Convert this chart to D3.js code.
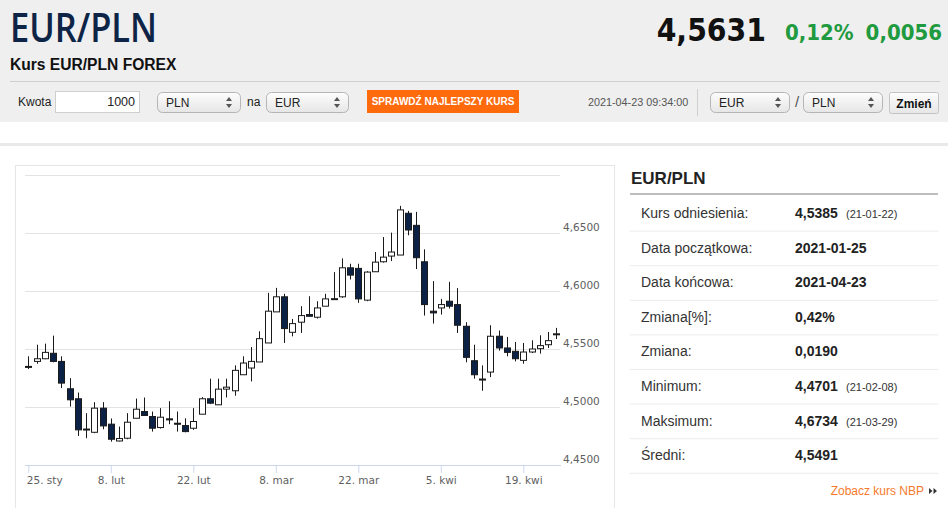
<!DOCTYPE html>
<html>
<head>
<meta charset="utf-8">
<script src="https://cdn.jsdelivr.net/npm/d3@7"></script>
<style>
  body { margin: 0; background: #fff; }
  svg { display: block; }
</style>
</head>
<body>
<script>
// dni notowań (pon-pt), 2021-01-25 .. 2021-04-23
var days = ['01-25','01-26','01-27','01-28','01-29','02-01','02-02','02-03','02-04','02-05',
  '02-08','02-09','02-10','02-11','02-12','02-15','02-16','02-17','02-18','02-19',
  '02-22','02-23','02-24','02-25','02-26','03-01','03-02','03-03','03-04','03-05',
  '03-08','03-09','03-10','03-11','03-12','03-15','03-16','03-17','03-18','03-19',
  '03-22','03-23','03-24','03-25','03-26','03-29','03-30','03-31','04-01','04-02',
  '04-05','04-06','04-07','04-08','04-09','04-12','04-13','04-14','04-15','04-16',
  '04-19','04-20','04-21','04-22','04-23']

var open = [4.5350,4.5393,4.5416,4.5463,4.5393,4.5157,4.5071,4.4805,4.4782,4.4990,
  4.4852,4.4707,4.4731,4.4903,4.4961,4.4918,4.4823,4.4898,4.4860,4.4840,
  4.4817,4.4938,4.5071,4.5019,4.5154,4.5140,4.5278,4.5336,4.5388,4.5552,
  4.5820,4.5950,4.5644,4.5731,4.5797,4.5774,4.5869,4.5930,4.5950,4.6200,
  4.6195,4.5921,4.6166,4.6252,4.6301,4.6310,4.6670,4.6566,4.6252,4.5826,
  4.5854,4.5912,4.5883,4.5696,4.5399,4.5241,4.5301,4.5610,4.5509,4.5480,
  4.5402,4.5474,4.5503,4.5537,4.5628]
var high = [4.5437,4.5537,4.5546,4.5615,4.5437,4.5249,4.5125,4.4947,4.5042,4.5042,
  4.4901,4.4831,4.4947,4.5073,4.5082,4.4961,4.4990,4.5050,4.4961,4.4903,
  4.4990,4.5085,4.5244,4.5244,4.5244,4.5359,4.5437,4.5517,4.5653,4.5984,
  4.6027,4.5976,4.5759,4.5869,4.5955,4.5912,4.5976,4.6163,4.6281,4.6235,
  4.6235,4.6171,4.6336,4.6465,4.6503,4.6734,4.6690,4.6682,4.6359,4.6085,
  4.5932,4.6079,4.6025,4.5731,4.5537,4.5359,4.5705,4.5659,4.5604,4.5561,
  4.5552,4.5575,4.5618,4.5647,4.5682]
var low = [4.5327,4.5373,4.5412,4.5385,4.5163,4.5004,4.4751,4.4731,4.4774,4.4808,
  4.4701,4.4703,4.4722,4.4903,4.4925,4.4788,4.4814,4.4852,4.4788,4.4782,
  4.4803,4.4938,4.5025,4.5019,4.5082,4.5097,4.5278,4.5220,4.5388,4.5552,
  4.5820,4.5552,4.5609,4.5638,4.5782,4.5762,4.5869,4.5926,4.5941,4.6099,
  4.5898,4.5912,4.6166,4.6244,4.6258,4.6310,4.6480,4.6189,4.5788,4.5719,
  4.5797,4.5849,4.5638,4.5385,4.5244,4.5140,4.5258,4.5486,4.5437,4.5393,
  4.5373,4.5465,4.5460,4.5509,4.5586]
var close = [4.5348,4.5416,4.5471,4.5393,4.5206,4.5062,4.4803,4.4810,4.4990,4.4837,
  4.4722,4.4728,4.4869,4.4981,4.4927,4.4817,4.4912,4.4889,4.4858,4.4788,
  4.4875,4.5071,4.5033,4.5154,4.5171,4.5316,4.5379,4.5393,4.5589,4.5826,
  4.5950,4.5676,4.5719,4.5788,4.5782,4.5854,4.5932,4.5934,4.6200,4.6137,
  4.5932,4.6163,4.6249,4.6292,4.6336,4.6699,4.6526,4.6287,4.5883,4.5811,
  4.5883,4.5869,4.5705,4.5428,4.5278,4.5235,4.5610,4.5509,4.5471,4.5416,
  4.5474,4.5500,4.5529,4.5572,4.5631]

var xTicks = ['01-25','02-08','02-22','03-08','03-22','04-05','04-19']
var xTickLabels = ['25. sty','8. lut','22. lut','8. mar','22. mar','5. kwi','19. kwi']
var yTicks = [4.45, 4.50, 4.55, 4.60, 4.65, 4.70]

var statLabels = ['Kurs odniesienia:','Data początkowa:','Data końcowa:','Zmiana[%]:','Zmiana:','Minimum:','Maksimum:','Średni:']
var statValues = ['4,5385','2021-01-25','2021-04-23','0,42%','0,0190','4,4701','4,6734','4,5491']
var statDates = ['(21-01-22)','','','','','(21-02-08)','(21-03-29)','']

var W = 948, H = 508
var sans = 'Arial, "Liberation Sans", sans-serif'
var cond = '"DejaVu Sans Condensed", "DejaVu Sans", sans-serif'

var svg = d3.select('body').append('svg')
  .attr('width', W)
  .attr('height', H)
  .style('font-family', sans)

// ---- nagłówek ----
svg.append('rect').attr('x', 0).attr('y', 0).attr('width', W).attr('height', 122).attr('fill', '#efefef')

svg.append('text').attr('x', 10).attr('y', 42)
  .style('font-family', '"Open Sans", sans-serif').style('font-size', '39px').style('font-weight', 600)
  .attr('textLength', 147).attr('lengthAdjust', 'spacingAndGlyphs')
  .attr('fill', '#0d2446')
  .text('EUR/PLN')
svg.append('text').attr('x', 10).attr('y', 70)
  .style('font-size', '15.6px').style('font-weight', 'bold').attr('fill', '#111')
  .text('Kurs EUR/PLN FOREX')

svg.append('text').attr('x', 766).attr('y', 41).attr('text-anchor', 'end')
  .style('font-family', cond).style('font-size', '31.5px').style('font-weight', 'bold').attr('fill', '#111')
  .text('4,5631')
svg.append('text').attr('x', 785).attr('y', 40)
  .style('font-family', cond).style('font-size', '22px').style('font-weight', 'bold').attr('fill', '#1f9a3f')
  .text('0,12%')
svg.append('text').attr('x', 942).attr('y', 40).attr('text-anchor', 'end')
  .style('font-family', cond).style('font-size', '22px').style('font-weight', 'bold').attr('fill', '#1f9a3f')
  .text('0,0056')

svg.append('line').attr('x1', 10).attr('x2', 940).attr('y1', 81.5).attr('y2', 81.5).attr('stroke', '#cfcfcf')

var grad = svg.append('defs').append('linearGradient').attr('id', 'sel').attr('x1', 0).attr('x2', 0).attr('y1', 0).attr('y2', 1)
grad.append('stop').attr('offset', 0).attr('stop-color', '#fdfdfd')
grad.append('stop').attr('offset', 1).attr('stop-color', '#e6e6e6')

function select(x, w, label) {
  var g = svg.append('g').attr('transform', `translate(${x},92)`)
  g.append('rect').attr('x', 0.5).attr('y', 0.5).attr('width', w).attr('height', 20).attr('rx', 5)
    .attr('fill', 'url(#sel)').attr('stroke', '#b5b5b5')
  g.append('text').attr('x', 9).attr('y', 14.5).style('font-size', '12px').attr('fill', '#222').text(label)
  g.append('path').attr('d', `M${w - 14},9 l3,-4 l3,4 Z M${w - 14},12 l3,4 l3,-4 Z`).attr('fill', '#555')
}

svg.append('text').attr('x', 18).attr('y', 106).style('font-size', '12px').attr('fill', '#222').text('Kwota')
svg.append('rect').attr('x', 55.5).attr('y', 91.5).attr('width', 84).attr('height', 21).attr('fill', '#fff').attr('stroke', '#cfcfcf')
svg.append('text').attr('x', 135).attr('y', 106).attr('text-anchor', 'end').style('font-size', '12.5px').attr('fill', '#222').text('1000')
select(157, 83, 'PLN')
svg.append('text').attr('x', 247).attr('y', 106).style('font-size', '12px').attr('fill', '#222').text('na')
select(266, 82, 'EUR')
svg.append('rect').attr('x', 367).attr('y', 90).attr('width', 152).attr('height', 23).attr('fill', '#ff6a0c')
svg.append('text').attr('x', 443).attr('y', 105).attr('text-anchor', 'middle')
  .style('font-size', '10px').style('font-weight', 'bold').attr('fill', '#fff')
  .text('SPRAWDŹ NAJLEPSZY KURS')
svg.append('text').attr('x', 588).attr('y', 106).style('font-size', '10.8px').attr('fill', '#555').text('2021-04-23 09:34:00')
svg.append('line').attr('x1', 697.5).attr('x2', 697.5).attr('y1', 89).attr('y2', 116).attr('stroke', '#d0d0d0')
select(710, 79, 'EUR')
svg.append('text').attr('x', 795).attr('y', 107).style('font-size', '15px').attr('fill', '#555').text('/')
select(803, 79, 'PLN')
svg.append('rect').attr('x', 889.5).attr('y', 92.5).attr('width', 49).attr('height', 21).attr('rx', 2)
  .attr('fill', 'url(#sel)').attr('stroke', '#c4c4c4')
svg.append('text').attr('x', 914).attr('y', 107.5).attr('text-anchor', 'middle')
  .style('font-size', '12px').style('font-weight', 'bold').attr('fill', '#111').text('Zmień')

// pas oddzielający i ramka wykresu
svg.append('rect').attr('x', 0).attr('y', 143).attr('width', W).attr('height', 3).attr('fill', '#e9e9e9')
svg.append('rect').attr('x', 15.5).attr('y', 165.5).attr('width', 599).attr('height', 360)
  .attr('fill', 'none').attr('stroke', '#e6e6e6')

// ---- wykres świecowy ----
var xScale = d3.scalePoint()
  .domain(days)
  .range([28.3, 556.3])

var yScale = d3.scaleLinear()
  .domain([4.45, 4.70])
  .range([465, 175])

var yGrid = d3.axisRight(yScale)
  .tickValues(yTicks)
  .tickSize(535)
  .tickFormat('')

svg.append('g')
  .attr('class', 'grid')
  .attr('transform', 'translate(25,0)')
  .call(yGrid)
  .call(g => g.select('.domain').remove())
  .selectAll('line')
  .attr('stroke', '#e3e3e3')

svg.append('g')
  .attr('class', 'y-labels')
  .selectAll('text')
  .data(yTicks.slice(0, 5))
  .join('text')
  .attr('x', 563)
  .attr('y', d => yScale(d) - 2)
  .style('font-family', '"DejaVu Sans", Verdana, sans-serif')
  .style('font-size', '10.5px')
  .attr('fill', '#606060')
  .text(d => d3.format('.4f')(d).replace('.', ','))

var xAxis = d3.axisBottom(xScale)
  .tickValues(xTicks)
  .tickSize(8)
  .tickFormat((d, i) => xTickLabels[i])

var xg = svg.append('g')
  .attr('class', 'x-axis')
  .attr('transform', 'translate(0,465)')
  .call(xAxis)
xg.select('.domain').attr('d', 'M25,0.5H561').attr('stroke', '#ccd6eb')
xg.selectAll('.tick line').attr('stroke', '#ccd6eb')
xg.selectAll('.tick text')
  .attr('y', 12)
  .attr('dy', '0.71em')
  .style('font-family', '"DejaVu Sans", Verdana, sans-serif')
  .style('font-size', '10.5px')
  .attr('fill', '#606060')
xg.select('.tick text').attr('text-anchor', 'start').attr('x', -2)

var candles = days.map((d, i) => ({ day: d, o: open[i], h: high[i], l: low[i], c: close[i] }))

var cg = svg.append('g').attr('class', 'candles')
  .selectAll('g')
  .data(candles)
  .join('g')
  .attr('transform', d => `translate(${Math.round(xScale(d.day)) + 0.5},0)`)

cg.append('line')
  .attr('y1', d => yScale(d.h))
  .attr('y2', d => yScale(d.l))
  .attr('stroke', '#1a1a1a')
  .attr('stroke-width', 1)

cg.append('rect')
  .attr('x', -3)
  .attr('width', 6)
  .attr('y', d => yScale(Math.max(d.o, d.c)))
  .attr('height', d => Math.max(1, yScale(Math.min(d.o, d.c)) - yScale(Math.max(d.o, d.c))))
  .attr('fill', d => d.c >= d.o ? '#ffffff' : '#0b2145')
  .attr('stroke', '#1a1a1a')
  .attr('stroke-width', 1)

// ---- tabela ----
svg.append('text').attr('x', 631).attr('y', 184)
  .style('font-size', '17px').style('font-weight', 'bold').attr('fill', '#222').text('EUR/PLN')
svg.append('line').attr('x1', 630).attr('x2', 938).attr('y1', 194).attr('y2', 194).attr('stroke', '#a8a8a8').attr('stroke-width', 1.5)

var rowH = 34.6
var rows = svg.append('g').attr('class', 'stats')
  .selectAll('g')
  .data(statLabels)
  .join('g')
  .attr('transform', (d, i) => `translate(0,${196 + i * rowH})`)

rows.append('text').attr('x', 641).attr('y', 22)
  .style('font-size', '14px').attr('fill', '#333').text(d => d)
rows.append('text').attr('x', 795).attr('y', 22)
  .style('font-size', '14px').style('font-weight', 'bold').attr('fill', '#222').text((d, i) => statValues[i])
rows.append('text').attr('x', 846).attr('y', 22)
  .style('font-size', '11px').attr('fill', '#333').text((d, i) => statDates[i])
rows.append('line').attr('x1', 630).attr('x2', 938).attr('y1', rowH + 0.5).attr('y2', rowH + 0.5).attr('stroke', '#ececec')

svg.append('text').attr('x', 924).attr('y', 495).attr('text-anchor', 'end')
  .style('font-size', '12px').attr('fill', '#f57a2c').text('Zobacz kurs NBP')
svg.append('path').attr('d', 'M929,488 l3.5,3 l-3.5,3 Z M933.5,488 l3.5,3 l-3.5,3 Z').attr('fill', '#333')
</script>
</body>
</html>
